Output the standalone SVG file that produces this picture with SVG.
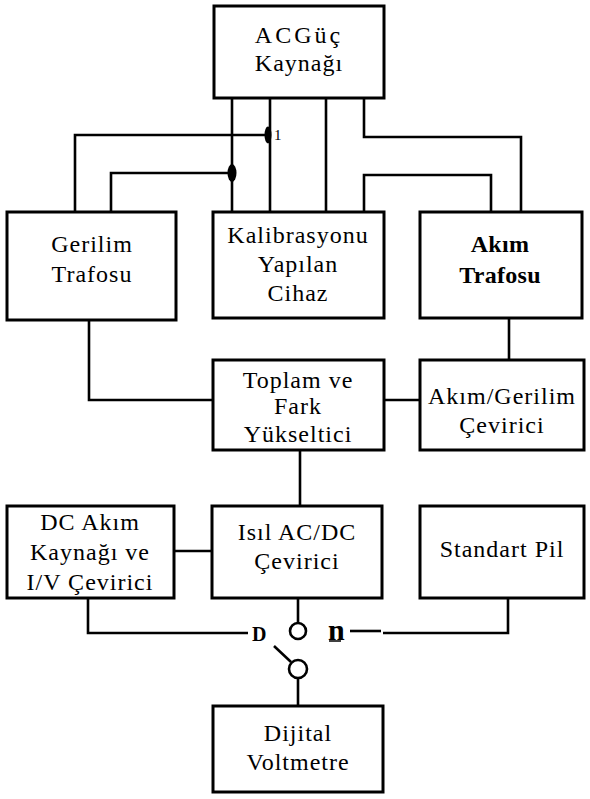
<svg xmlns="http://www.w3.org/2000/svg" width="590" height="799" viewBox="0 0 590 799">
<style>
.box{fill:#fff;stroke:#000;stroke-width:3}
.t{font-family:"Liberation Serif","Times New Roman",Times,serif;font-size:24px;letter-spacing:1px;text-anchor:middle;fill:#000}
.b{font-weight:bold;letter-spacing:0.3px}
.c{fill:none;stroke:#000;stroke-width:2.6;stroke-linejoin:miter}
</style>
<rect width="590" height="799" fill="#fff"/>
<g id="connectors">
<path class="c" d="M232 98 V212"/>
<path class="c" d="M270 98 V212"/>
<path class="c" d="M326 98 V212" stroke-width="3.5"/>
<path class="c" d="M364 98 V137 H521 V212"/>
<path class="c" d="M364 212 V175 H491 V212"/>
<path class="c" d="M75 212 V135 H266"/>
<path class="c" d="M111 212 V173 H232"/>
<ellipse cx="268" cy="135" rx="3.5" ry="8.5" fill="#000"/>
<text x="274" y="140" font-family="Liberation Serif,serif" font-size="15" fill="#000">1</text>
<ellipse cx="232" cy="173" rx="4.5" ry="9" fill="#000"/>
<path class="c" d="M89 320 V400 H213"/>
<path class="c" d="M384 400 H420"/>
<path class="c" d="M509 318 V360" stroke-width="3.2"/>
<path class="c" d="M300 450 V506"/>
<path class="c" d="M174 551 H212"/>
<path class="c" d="M88 598 V633 H248"/>
<path class="c" d="M298 598 V623"/>
<circle cx="298" cy="631" r="8" class="c"/>
<circle cx="298" cy="669" r="9" class="c"/>
<path class="c" d="M274 646 L291 662"/>
<path class="c" d="M298 678 V706"/>
<path class="c" d="M350 631 H381"/>
<path class="c" d="M383 633 H508 V598"/>
<text x="252" y="641" font-family="Liberation Serif,serif" font-size="20" font-weight="bold" fill="#000">D</text>
<text x="328" y="640" font-family="Liberation Serif,serif" font-size="30" font-weight="bold" fill="#000">n</text>
<path d="M329 641 H341" stroke="#000" stroke-width="1.5"/>
</g>
<g id="ac"><rect class="box" x="214" y="6" width="170" height="92"/>
<text class="t" x="299" y="43" style="letter-spacing:3px">ACGüç</text><text class="t" x="299" y="71">Kaynağı</text></g>
<g id="gerilim"><rect class="box" x="7" y="212" width="169" height="108"/>
<text class="t" x="92" y="252">Gerilim</text><text class="t" x="92" y="282">Trafosu</text></g>
<g id="kalibrasyon"><rect class="box" x="213" y="212" width="171" height="106"/>
<text class="t" x="298" y="243">Kalibrasyonu</text><text class="t" x="298" y="272">Yapılan</text><text class="t" x="298" y="301">Cihaz</text></g>
<g id="akimtrafo"><rect class="box" x="420" y="212" width="162" height="106"/>
<text class="t b" x="500" y="252">Akım</text><text class="t b" x="500" y="283">Trafosu</text></g>
<g id="toplam"><rect class="box" x="213" y="360" width="171" height="90"/>
<text class="t" x="298" y="388">Toplam ve</text><text class="t" x="298" y="414">Fark</text><text class="t" x="298" y="442">Yükseltici</text></g>
<g id="akimgerilim"><rect class="box" x="420" y="360" width="164" height="90"/>
<text class="t" x="502" y="404">Akım/Gerilim</text><text class="t" x="502" y="433">Çevirici</text></g>
<g id="dc"><rect class="box" x="7" y="506" width="167" height="92"/>
<text class="t" x="90" y="530">DC Akım</text><text class="t" x="90" y="560">Kaynağı ve</text><text class="t" x="90" y="590">I/V Çevirici</text></g>
<g id="isil"><rect class="box" x="212" y="506" width="170" height="92"/>
<text class="t" x="297" y="540">Isıl AC/DC</text><text class="t" x="297" y="569">Çevirici</text></g>
<g id="standart"><rect class="box" x="420" y="506" width="164" height="92"/>
<text class="t" x="502" y="557">Standart Pil</text></g>
<g id="dvm"><rect class="box" x="213" y="706" width="170" height="86"/>
<text class="t" x="298" y="741">Dijital</text><text class="t" x="298" y="770">Voltmetre</text></g>
</svg>
